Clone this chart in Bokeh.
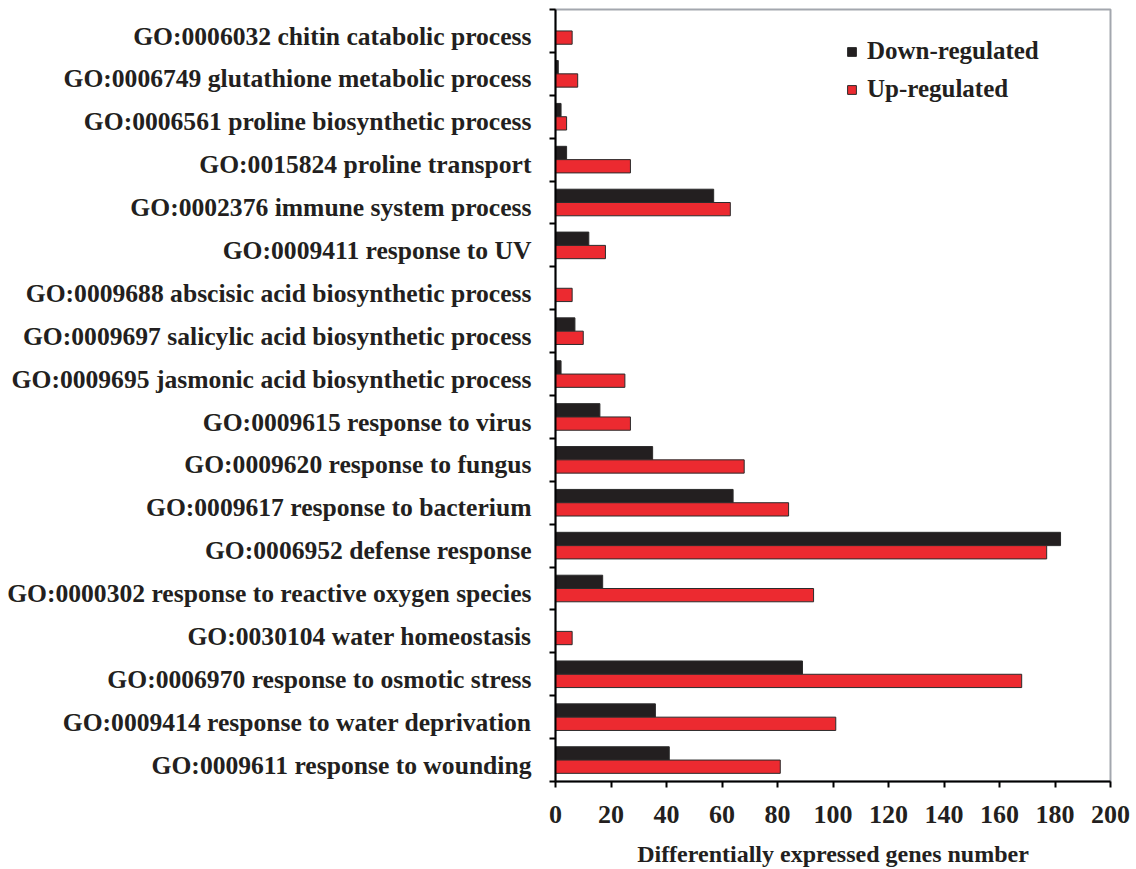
from bokeh.plotting import figure
from bokeh.models import ColumnDataSource, Range1d, FixedTicker, Legend, LegendItem
from bokeh.transform import dodge
from bokeh.embed import file_html
from bokeh.resources import INLINE

categories = [
    "GO:0006032 chitin catabolic process",
    "GO:0006749 glutathione metabolic process",
    "GO:0006561 proline biosynthetic process",
    "GO:0015824 proline transport",
    "GO:0002376 immune system process",
    "GO:0009411 response to UV",
    "GO:0009688 abscisic acid biosynthetic process",
    "GO:0009697 salicylic acid biosynthetic process",
    "GO:0009695 jasmonic acid biosynthetic process",
    "GO:0009615 response to virus",
    "GO:0009620 response to fungus",
    "GO:0009617 response to bacterium",
    "GO:0006952 defense response",
    "GO:0000302 response to reactive oxygen species",
    "GO:0030104 water homeostasis",
    "GO:0006970 response to osmotic stress",
    "GO:0009414 response to water deprivation",
    "GO:0009611 response to wounding",
]
down_regulated = [0, 1, 2, 4, 57, 12, 0, 7, 2, 16, 35, 64, 182, 17, 0, 89, 36, 41]
up_regulated = [6, 8, 4, 27, 63, 18, 6, 10, 25, 27, 68, 84, 177, 93, 6, 168, 101, 81]
x_ticks = [0, 20, 40, 60, 80, 100, 120, 140, 160, 180, 200]

n = len(categories)
pos = [i + 0.5 for i in range(n)]
label_pos = [pp + 0.12 for pp in pos]
src = ColumnDataSource(dict(y=pos, down=down_regulated, up=up_regulated, cat=categories))

FONT = "Liberation Serif"

p = figure(width=1136, height=869, output_backend="svg", toolbar_location=None,
           x_range=Range1d(0, 200), y_range=Range1d(n, 0),
           min_border_left=555, min_border_right=26, min_border_top=9, min_border_bottom=88)
p.grid.visible = False
p.background_fill_color = "white"
p.border_fill_color = "white"
p.outline_line_color = "#a3a7ae"
p.outline_line_width = 2

bar_h = 0.31
r_down = p.hbar(y=dodge("y", -0.155, range=p.y_range), right="down", left=0, height=bar_h,
                source=src, fill_color="#231f20", line_color="#2b2b2b", line_width=1)
r_up = p.hbar(y=dodge("y", 0.155, range=p.y_range), right="up", left=0, height=bar_h,
              source=src, fill_color="#ec2a30", line_color="#2b2b2b", line_width=1)

# y axis
ya = p.yaxis[0]
ya.ticker = FixedTicker(ticks=label_pos, minor_ticks=list(range(n + 1)))
ya.major_label_overrides = {pp: c for pp, c in zip(label_pos, categories)}
ya.major_tick_line_color = None
ya.minor_tick_line_color = "black"
ya.minor_tick_line_width = 2
ya.minor_tick_out = 6
ya.minor_tick_in = 0
ya.axis_line_color = "black"
ya.axis_line_width = 2
ya.major_label_text_font = FONT
ya.major_label_text_font_style = "bold"
ya.major_label_text_font_size = "25.6px"
ya.major_label_text_color = "#231f20"
ya.major_label_standoff = 18

xa = p.xaxis[0]
xa.ticker = FixedTicker(ticks=x_ticks)
xa.minor_tick_line_color = None
xa.major_tick_out = 6
xa.major_tick_in = 0
xa.major_tick_line_width = 2
xa.axis_line_width = 2
xa.major_label_text_font = FONT
xa.major_label_text_font_style = "bold"
xa.major_label_text_font_size = "26px"
xa.major_label_text_color = "#231f20"
xa.major_label_standoff = 18
xa.axis_label = "Differentially expressed genes number"
xa.axis_label_text_font = FONT
xa.axis_label_text_font_style = "bold"
xa.axis_label_text_font_size = "24px"
xa.axis_label_text_color = "#231f20"
xa.axis_label_standoff = 15

legend = Legend(items=[LegendItem(label="Down-regulated", renderers=[r_down]),
                       LegendItem(label="Up-regulated", renderers=[r_up])],
                location=(291, 678), border_line_color=None, background_fill_alpha=0,
                label_text_font=FONT, label_text_font_style="bold", label_text_font_size="25px",
                label_text_color="#231f20", glyph_width=11, glyph_height=11, spacing=10,
                padding=0, margin=0, label_standoff=10)
p.add_layout(legend)

open("out.html", "w").write(file_html(p, INLINE))
